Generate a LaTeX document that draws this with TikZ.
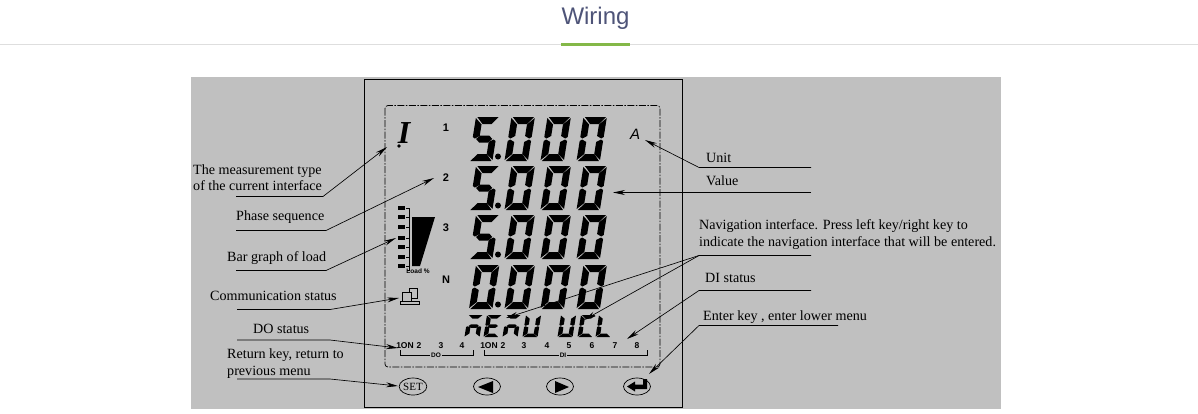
\documentclass[tikz,border=0pt]{standalone}
\usepackage{fontspec}
\setmainfont{Liberation Serif}
\setsansfont{Liberation Sans}
\newfontfamily\hdfont{Liberation Sans}
\usetikzlibrary{arrows.meta,shapes.geometric}
\definecolor{panel}{RGB}{192,192,192}
\definecolor{titlec}{RGB}{78,84,120}
\definecolor{barg}{RGB}{132,184,72}
\definecolor{hair}{RGB}{222,222,222}
\tikzset{
  x=1pt,y=-1pt,
  lead/.style={draw=black,line width=0.65pt},
  arr/.style={lead,-{Stealth[length=12pt,width=5pt]}},
  lab/.style={font=\fontsize{14.1}{16.5}\selectfont,text=black,inner sep=0pt,anchor=west,align=left},
  tiny/.style={font=\bfseries\sffamily\fontsize{8.5}{8.5}\selectfont,text=black,inner sep=0pt},
  phase/.style={font=\bfseries\sffamily\fontsize{11}{11}\selectfont,text=black,inner sep=0pt},
  micro/.style={font=\bfseries\sffamily\fontsize{6.5}{6.5}\selectfont,text=black,inner sep=0pt},
  keyring/.style={draw=black,line width=0.7pt,ellipse,minimum width=27pt,minimum height=17pt,inner sep=0pt}
}
\newcommand\sevseg[5]{%
 \begin{scope}[shift={(#1,#2)},xslant=0.16,xscale=#3,yscale=#4]
  \foreach \s in {#5}{\fill[black] \csname segpath\s\endcsname;}
 \end{scope}}
\expandafter\def\csname segpathA\endcsname{(1.5,0)--(25,0)--(18.5,7)--(8.5,7)--cycle}
\expandafter\def\csname segpathB\endcsname{(26,1)--(26,20)--(23.5,21.5)--(18.5,19)--(18.5,7.5)--cycle}
\expandafter\def\csname segpathC\endcsname{(26,24)--(26,43)--(18.5,37)--(18.5,25)--(23.5,22.5)--cycle}
\expandafter\def\csname segpathD\endcsname{(8.5,37)--(18.5,37)--(25,44)--(1.5,44)--cycle}
\expandafter\def\csname segpathE\endcsname{(0,24)--(2.5,22.5)--(7.5,25)--(7.5,37)--(0,43)--cycle}
\expandafter\def\csname segpathF\endcsname{(0,1)--(7.5,7.5)--(7.5,19)--(2.5,21.5)--(0,20)--cycle}
\expandafter\def\csname segpathG\endcsname{(4,22)--(8,18.5)--(18,18.5)--(22,22)--(18,25.5)--(8,25.5)--cycle}
\newcommand\readout[2]{%
 \sevseg{476}{#1}{0.9}{1}{#2}
 \fill (498,#1+39.5) circle (3);
 \sevseg{511.5}{#1}{0.9}{1}{A,B,C,D,E,F}
 \sevseg{547.5}{#1}{0.9}{1}{A,B,C,D,E,F}
 \sevseg{583.5}{#1}{0.9}{1}{A,B,C,D,E,F}}
\begin{document}
\begin{tikzpicture}
\useasboundingbox (0,0) rectangle (1198,413);
\fill[white] (0,0) rectangle (1198,413);
% heading
\node[font=\hdfont\fontsize{24}{28}\selectfont,text=titlec,inner sep=0pt] (title) at (595.5,18.5) {Wiring};
\draw[hair,line width=1pt] (0,44.5) -- (1198,44.5);
\fill[barg] (561,43) rectangle (630,45.5);
% panel
\fill[panel] (191,77) rectangle (1001,409);
\draw[black,line width=0.9pt] (364.5,79.5) rectangle (682.5,407);
\draw[black,line width=0.7pt,dash pattern=on 7pt off 1.5pt on 1.5pt off 1.5pt,rounded corners=3pt] (385,105.5) rectangle (660,367);
% readouts
\readout{117}{A,F,G,C,D}
\readout{166}{A,F,G,C,D}
\readout{215}{A,F,G,C,D}
\readout{265}{A,B,C,D,E,F}
% left marks
\node[font=\bfseries\itshape\fontsize{32}{32}\selectfont,inner sep=0pt] (typeI) at (404,133) {I};
\fill[black] (399,146) circle (1.8);
\node[phase] (ph1) at (446,128) {1};
\node[phase] (ph2) at (446,178) {2};
\node[phase] (ph3) at (446,228) {3};
\node[phase] (phN) at (446,280) {N};
\node[font=\itshape\sffamily\fontsize{15}{15}\selectfont,inner sep=0pt] (unitA) at (635,134) {A};
% bar graph
\fill[black] (412,217) -- (435,217) -- (420,266) -- (412,266) -- cycle;
\draw[black,line width=0.8pt] (407,208) -- (409.5,208) -- (409.5,270) -- (407,270);
\foreach \yy in {208,217,227,238,247,257,266}{
  \fill[black] (398,\yy-1.8) rectangle (405,\yy+1.8);
  \fill[black] (406,\yy-0.5) rectangle (409,\yy+0.5);}
\node[micro] (loadp) at (418,271) {Load \%};
% communication icon
\draw[black,line width=1pt,fill=panel] (409,288.5) rectangle (417,298);
\draw[black,line width=1pt,fill=panel] (402,292) rectangle (411,301);
\draw[black,line width=1pt,fill=panel] (400.5,301) rectangle (419,304.5);
% menu row
\sevseg{468}{315}{0.58}{0.5}{A,E,C,G}
\sevseg{487}{315}{0.58}{0.5}{A,F,G,E,D}
\sevseg{506}{315}{0.58}{0.5}{A,E,C,G}
\sevseg{526}{315}{0.58}{0.5}{F,B,E,C,D}
\sevseg{561}{315}{0.58}{0.5}{F,B,E,C,D}
\sevseg{581}{315}{0.58}{0.5}{A,F,E,D}
\sevseg{599}{315}{0.58}{0.5}{F,E,D}
% DO scale
\node[tiny] (do1) at (405,346) {1ON};
\node[tiny] (do2) at (419,346) {2};
\node[tiny] (do3) at (441,346) {3};
\node[tiny] (do4) at (462,346) {4};
\draw[black,line width=1pt] (400,350) -- (400,355) -- (473,355) -- (473,350);
\node[micro,fill=panel,inner xsep=1pt] (dol) at (436,355) {DO};
% DI scale
\node[tiny] (di1) at (489,346) {1ON};
\node[tiny] (di2) at (503,346) {2};
\node[tiny] (di3) at (524,346) {3};
\node[tiny] (di4) at (547,346) {4};
\node[tiny] (di5) at (569,346) {5};
\node[tiny] (di6) at (592,346) {6};
\node[tiny] (di7) at (615,346) {7};
\node[tiny] (di8) at (637,346) {8};
\draw[black,line width=1pt] (484,350) -- (484,355) -- (647,355) -- (647,350);
\node[micro,fill=panel,inner xsep=1pt] (dil) at (563,355) {DI};
% keys
\node[keyring] (kset) at (413,386.5) {\fontsize{11}{11}\selectfont SET};
\node[keyring] (kleft) at (487,386.5) {};
\node[keyring] (kright) at (560,386.5) {};
\node[keyring] (kenter) at (637,386.5) {};
\fill[black] (478,387) -- (493,381) -- (493,393) -- cycle;
\fill[black] (569,387) -- (555,381) -- (555,393) -- cycle;
\fill[black] (627,386.5) -- (635,381.5) -- (635,384.5) -- (643,384.5) -- (643,379) -- (647,379) -- (647,389) -- (635,389) -- (635,391.5) -- cycle;
% labels
\node[lab] (l1) at (193,177.5) {The measurement type\\of the current interface};
\node[lab] (l2) at (236,217) {Phase sequence};
\node[lab] (l3) at (227,258) {Bar graph of load};
\node[lab] (l4) at (210,296) {Communication status};
\node[lab] (l5) at (253,329) {DO status};
\node[lab] (l6) at (227,363.5) {Return key, return to\\previous menu};
\node[lab] (r1) at (706,158) {Unit};
\node[lab] (r2) at (706,181) {Value};
\node[lab] (r3) at (699,234.5) {Navigation interface. Press left key/right key to\\indicate the navigation interface that will be entered.};
\node[lab] (r4) at (705,278) {DI status};
\node[lab] (r5) at (703,317) {Enter key , enter lower menu};
% leader corners
\coordinate (c1a) at (236,196.5);\coordinate (c1b) at (323,196.5);
\coordinate (c2a) at (236,230.5);\coordinate (c2b) at (326,230.5);
\coordinate (c3a) at (236,270.5);\coordinate (c3b) at (326,270.5);
\coordinate (c4a) at (237,309.5);\coordinate (c4b) at (330,309.5);
\coordinate (c5a) at (237,340);\coordinate (c5b) at (330,340);
\coordinate (c6a) at (237,379);\coordinate (c6b) at (330,379);
\coordinate (d1a) at (811,167.5);\coordinate (d1b) at (699,167.5);
\coordinate (d2a) at (811,192.5);
\coordinate (d3a) at (811,255.5);\coordinate (d3b) at (699,255.5);
\coordinate (d4a) at (811,290.5);\coordinate (d4b) at (699,290.5);
\coordinate (d5a) at (838,325.5);\coordinate (d5b) at (699,325.5);
% targets
\coordinate (t1) at (387,147);\coordinate (t2) at (434,178);\coordinate (t3) at (396,238);
\coordinate (t4) at (399,298);\coordinate (t5) at (398,348);\coordinate (t6) at (398,386);
\coordinate (u1) at (645,140);\coordinate (u2) at (613,192.5);
\coordinate (u3) at (506,318);\coordinate (u3b) at (584,320);
\coordinate (u4) at (627,339);\coordinate (u5) at (649,374);
\draw[arr] (c1a) -- (c1b) -- (t1);
\draw[arr] (c2a) -- (c2b) -- (t2);
\draw[arr] (c3a) -- (c3b) -- (t3);
\draw[arr] (c4a) -- (c4b) -- (t4);
\draw[arr] (c5a) -- (c5b) -- (t5);
\draw[arr] (c6a) -- (c6b) -- (t6);
\draw[arr] (d1a) -- (d1b) -- (u1);
\draw[arr] (d2a) -- (u2);
\draw[arr] (d3a) -- (d3b) -- (u3);
\draw[arr] (d3b) -- (u3b);
\draw[arr] (d4a) -- (d4b) -- (u4);
\draw[arr] (d5a) -- (d5b) -- (u5);
\end{tikzpicture}
\end{document}
